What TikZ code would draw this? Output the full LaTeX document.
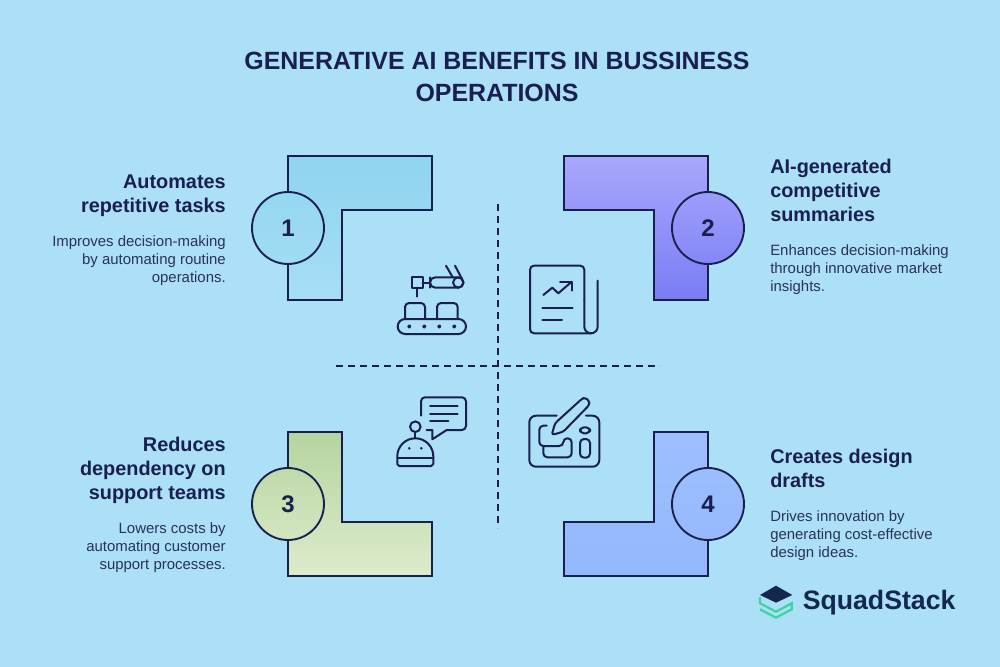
\documentclass[tikz,border=0pt]{standalone}
\usepackage{fontspec}
\setmainfont{Liberation Sans}
\definecolor{bgblue}{HTML}{ABE0F7}
\definecolor{inkblue}{HTML}{1A1F4F}
\definecolor{bodyblue}{HTML}{2B3158}
\definecolor{logonavy}{HTML}{14274E}
\definecolor{logogreen}{HTML}{3FD3A4}
\definecolor{blueA}{HTML}{8FD4F0}
\definecolor{blueB}{HTML}{A6DEF5}
\definecolor{violetA}{HTML}{A8A8FC}
\definecolor{violetB}{HTML}{7A7CF5}
\definecolor{greenA}{HTML}{B5D4A0}
\definecolor{greenB}{HTML}{DDECCB}
\definecolor{skyA}{HTML}{9DBFFE}
\definecolor{skyB}{HTML}{93B8FC}
\tikzset{
  blockline/.style={draw=inkblue,line width=1.5pt,line join=miter},
  badge/.style={circle,draw=inkblue,line width=1.4pt,minimum size=54pt,inner sep=0pt,font=\bfseries\fontsize{18}{18}\selectfont,text=inkblue},
  divider/.style={draw=inkblue,line width=1.5pt,dash pattern=on 5.1pt off 3.9pt},
  icon/.style={draw=inkblue,line width=1.5pt,line cap=round,line join=round},
  heading/.style={font=\bfseries\fontsize{14.9}{18}\selectfont,text=inkblue,inner sep=0pt},
  bodytext/.style={font=\fontsize{11.2}{13.5}\selectfont,text=bodyblue,inner sep=0pt}
}
\begin{document}
\begin{tikzpicture}[x=0.75pt,y=-0.75pt]
\path[fill=bgblue] (0,0) rectangle (1000,667);
\useasboundingbox (0,0) rectangle (1000,667);
\node[font=\bfseries\fontsize{18.7}{23.5}\selectfont,text=inkblue,align=center,inner sep=0pt] (title) at (497,77) {GENERATIVE AI BENEFITS IN BUSSINESS\\OPERATIONS};

\path[blockline,top color=blueA,bottom color=blueB] (288,156) -- (432,156) -- (432,210) -- (342,210) -- (342,300) -- (288,300) -- cycle;
\path[blockline,top color=violetA,bottom color=violetB] (564,156) -- (708,156) -- (708,300) -- (654,300) -- (654,210) -- (564,210) -- cycle;
\path[blockline,top color=greenA,bottom color=greenB] (288,432) -- (342,432) -- (342,522) -- (432,522) -- (432,576) -- (288,576) -- cycle;
\path[blockline,top color=skyA,bottom color=skyB] (654,432) -- (708,432) -- (708,576) -- (564,576) -- (564,522) -- (654,522) -- cycle;

\node[badge,top color=blueA!75!blueB,bottom color=blueA!25!blueB] (one) at (288,228) {1};
\node[badge,top color=violetA!75!violetB,bottom color=violetA!25!violetB] (two) at (708,228) {2};
\node[badge,top color=greenA!75!greenB,bottom color=greenA!25!greenB] (three) at (288,504) {3};
\node[badge,top color=skyA!75!skyB,bottom color=skyA!25!skyB] (four) at (708,504) {4};

\coordinate (vtop) at (498,204);
\coordinate (vbot) at (498,528);
\coordinate (hleft) at (336,366);
\coordinate (hright) at (660,366);
\draw[divider] (vtop) -- (vbot);
\draw[divider] (hleft) -- (hright);

\node[heading,align=right,anchor=north east] (headone) at (226,175) {Automates\\repetitive tasks};
\node[bodytext,align=right,anchor=north east] (bodyone) at (226,235) {Improves decision-making\\by automating routine\\operations.};
\node[heading,align=left,anchor=north west] (headtwo) at (770,159) {AI-generated\\competitive\\summaries};
\node[bodytext,align=left,anchor=north west] (bodytwo) at (770,244) {Enhances decision-making\\through innovative market\\insights.};
\node[heading,align=right,anchor=north east] (headthree) at (226,437) {Reduces\\dependency on\\support teams};
\node[bodytext,align=right,anchor=north east] (bodythree) at (226,522) {Lowers costs by\\automating customer\\support processes.};
\node[heading,align=left,anchor=north west] (headfour) at (770,449) {Creates design\\drafts};
\node[bodytext,align=left,anchor=north west] (bodyfour) at (770,510) {Drives innovation by\\generating cost-effective\\design ideas.};

\draw[icon,rounded corners=5.6pt] (397.7,319) rectangle (466,334);
\foreach \x in {409.3,424.3,439.3,454.3}
  \draw[icon,line width=1.2pt] (\x,326.4) circle (1.3);
\draw[icon,rounded corners=3pt] (405,319) -- (405,303) -- (425,303) -- (425,319);
\draw[icon,rounded corners=3pt] (437,319) -- (437,303) -- (457.7,303) -- (457.7,319);
\draw[icon] (412.3,277.3) rectangle (422.7,287.7);
\draw[icon] (417.3,287.7) -- (417.3,296.7);
\draw[icon] (422.7,282.5) -- (430,282.5);
\draw[icon,rounded corners=3.9pt] (430,282.5) -- (430,277.3) -- (463.3,277.3) -- (463.3,287.7) -- (430,287.7) -- cycle;
\draw[icon] (458.3,282.5) circle (5.2);
\draw[icon] (446,265.7) -- (452.7,277.3);
\draw[icon] (455,265.7) -- (461.7,278.3);

\draw[icon,rounded corners=3pt] (591,333.3) -- (530,333.3) -- (530,265.7) -- (584.3,265.7) -- (584.3,300);
\draw[icon] (584.3,300) -- (584.3,326.6) arc[start angle=180,end angle=0,radius=6.7] -- (597.7,280.7);
\draw[icon] (543.3,295) -- (552.3,287.7) -- (558.3,293.3) -- (571.7,281.7);
\draw[icon] (560,281.7) -- (571.7,281.7) -- (571.7,290.7);
\draw[icon] (542.3,308.3) -- (572.7,308.3);
\draw[icon] (542.3,320.3) -- (562,320.3);

\draw[icon,rounded corners=3pt] (421,415.7) -- (421,397.3) -- (466,397.3) -- (466,430) -- (446.7,430);
\draw[icon] (446.7,430) -- (432.3,439.3) -- (432.3,430) -- (426.7,430);
\draw[icon] (430,406) -- (457.7,406);
\draw[icon] (430,413.7) -- (457.7,413.7);
\draw[icon] (430,421.3) -- (448.3,421.3);
\draw[icon] (415.3,426.7) circle (5.3);
\draw[icon] (415.3,432) -- (415.3,438.3);
\draw[icon] (397.3,456.3) arc[start angle=180,end angle=360,radius=18] -- (433.3,464) -- (431.3,466) -- (399.3,466) -- (397.3,464) -- cycle;
\draw[icon] (397.3,458.3) -- (433.3,458.3);
\fill[inkblue] (409.3,448.3) circle (1.4);
\fill[inkblue] (421.3,448.3) circle (1.4);

\draw[icon,rounded corners=5pt] (556.7,415.7) -- (529.3,415.7) -- (529.3,466.7) -- (599.3,466.7) -- (599.3,415.7) -- (586,415.7);
\draw[icon,rounded corners=2pt] (551.7,435) -- (555,423.3) -- (581.7,399) -- (585,397.5) -- (589.3,401) -- (589.3,405) -- (563.3,431.7) -- cycle;
\draw[icon,rounded corners=3pt] (546.7,425.7) -- (539.3,425.7) -- (539.3,446) -- (563.3,446) -- (563.3,438.3) -- (571.7,438.3) -- (571.7,457.3) -- (543.3,457.3) -- (543.3,446.7);
\draw[icon,rounded corners=3pt] (580,427.3) rectangle (590,433.3);
\draw[icon,rounded corners=3pt] (580,439) rectangle (590,457.7);

\fill[logonavy] (776,585.7) -- (792.3,595) -- (776,602.7) -- (760,595) -- cycle;
\draw[logogreen,line width=1.7pt] (760,597) -- (760,603.3) -- (776,611.7) -- (791.7,603.3) -- (791.7,609.3) -- (776,617.7) -- (760,609.3);
\node[font=\bfseries\fontsize{20}{20}\selectfont,text=logonavy,anchor=west,inner sep=0pt] (logo) at (802.5,603) {SquadStack};
\end{tikzpicture}
\end{document}
